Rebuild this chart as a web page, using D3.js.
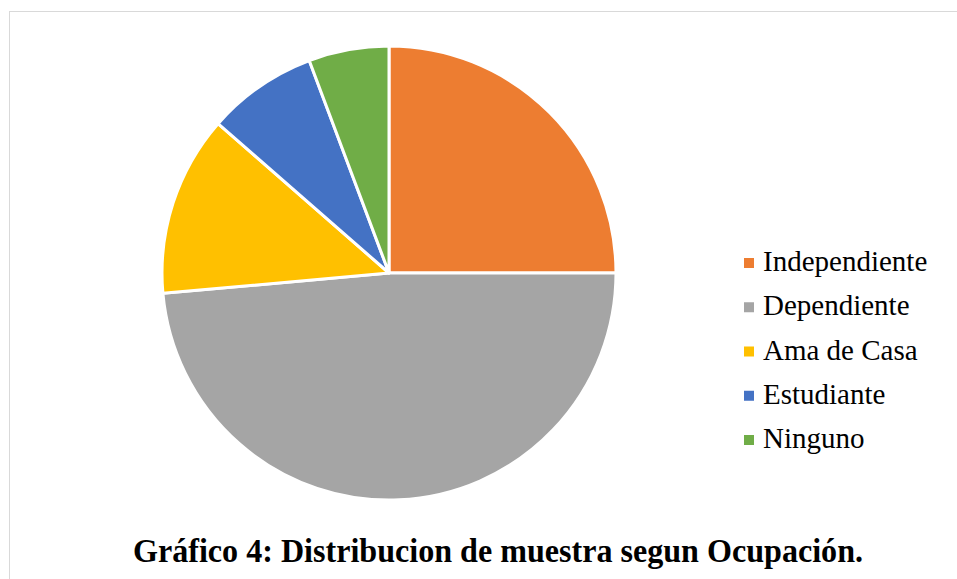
<!DOCTYPE html>
<html>
<head>
<meta charset="utf-8">
<script src="https://cdn.jsdelivr.net/npm/d3@7"></script>
<style>
  html, body { margin: 0; padding: 0; background: #fff; }
  svg { display: block; }
</style>
</head>
<body>
<svg id="chart" width="957" height="579"></svg>
<script>
const categories = ["Independiente", "Dependiente", "Ama de Casa", "Estudiante", "Ninguno"];
const values = [35, 68, 18, 11, 8];
const colors = ["#ED7D31", "#A5A5A5", "#FFC000", "#4472C4", "#70AD47"];
const title = "Gráfico 4: Distribucion de muestra segun Ocupación.";

const svg = d3.select("#chart");

// chart area border
svg.append("rect")
  .attr("x", 9.5).attr("y", 11.5)
  .attr("width", 1000).attr("height", 1000)
  .attr("fill", "#fff")
  .attr("stroke", "#d9d9d9").attr("stroke-width", 1);

const data = categories.map((c, i) => ({ name: c, value: values[i], color: colors[i] }));

const pie = d3.pie().value(d => d.value).sort(null);
const arc = d3.arc().innerRadius(0).outerRadius(227);

const g = svg.append("g").attr("transform", "translate(389,273)");
g.selectAll("path")
  .data(pie(data))
  .join("path")
  .attr("d", arc)
  .attr("fill", d => d.data.color)
  .attr("stroke", "#fff")
  .attr("stroke-width", 3)
  .attr("stroke-linejoin", "round");

// legend
const legendY = d3.scalePoint().domain(categories).range([263, 440]);
const lg = svg.append("g");
const items = lg.selectAll("g").data(data).join("g")
  .attr("transform", d => `translate(744,${legendY(d.name)})`);
items.append("rect")
  .attr("x", 0).attr("y", -5).attr("width", 10).attr("height", 10)
  .attr("fill", d => d.color);
items.append("text")
  .attr("x", 19).attr("y", 8)
  .attr("font-family", "'Liberation Serif', 'Times New Roman', serif")
  .attr("font-size", 29)
  .attr("fill", "#000")
  .text(d => d.name);

// title
svg.append("text")
  .attr("x", 498).attr("y", 562)
  .attr("text-anchor", "middle")
  .attr("font-family", "'Liberation Serif', 'Times New Roman', serif")
  .attr("font-weight", "bold")
  .attr("font-size", 33)
  .attr("textLength", 730)
  .attr("lengthAdjust", "spacingAndGlyphs")
  .attr("fill", "#000")
  .text(title);
</script>
</body>
</html>
